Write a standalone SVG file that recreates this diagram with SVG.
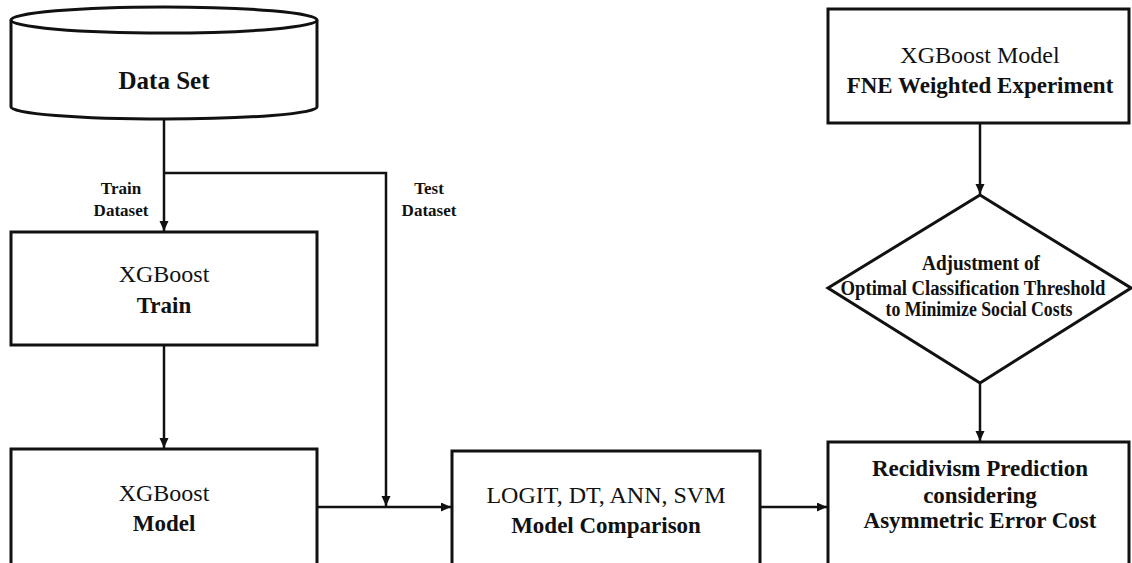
<svg xmlns="http://www.w3.org/2000/svg" width="1132" height="563" viewBox="0 0 1132 563">
<style>
.box{fill:#fff;stroke:#111;stroke-width:3}
.ln{fill:none;stroke:#111;stroke-width:2.5}
text{font-family:"Liberation Serif","Times New Roman",serif;fill:#111;text-anchor:middle}
.r{font-size:24px}
.b{font-size:23px;font-weight:bold}
.s{font-size:17px;font-weight:bold}
.d{font-size:20px;font-weight:bold}
</style>
<defs>
<marker id="ah" markerUnits="userSpaceOnUse" markerWidth="11" markerHeight="10" refX="10" refY="4.5" orient="auto">
<path d="M0,0 L10,4.5 L0,9 z" fill="#111"/>
</marker>
</defs>
<rect width="1132" height="563" fill="#fff"/>
<g id="connectors">
<line class="ln" x1="164" y1="120" x2="164" y2="231" marker-end="url(#ah)"/>
<polyline class="ln" points="164,173 386,173 386,506" marker-end="url(#ah)"/>
<line class="ln" x1="164" y1="346" x2="164" y2="448" marker-end="url(#ah)"/>
<line class="ln" x1="318" y1="507" x2="451" y2="507" marker-end="url(#ah)"/>
<line class="ln" x1="761" y1="507" x2="827" y2="507" marker-end="url(#ah)"/>
<line class="ln" x1="980" y1="124" x2="980" y2="194" marker-end="url(#ah)"/>
<line class="ln" x1="980" y1="384" x2="980" y2="441" marker-end="url(#ah)"/>
<text class="s" x="121" y="194">Train</text>
<text class="s" x="121" y="216">Dataset</text>
<text class="s" x="429" y="194">Test</text>
<text class="s" x="429" y="216">Dataset</text>
</g>
<g id="dataset">
<path class="box" d="M11,20 L11,107 A153,12 0 0 0 317,107 L317,20"/>
<ellipse class="box" cx="164" cy="20" rx="153" ry="13"/>
<text class="b" x="164" y="89" style="font-size:25px">Data Set</text>
</g>
<g id="train">
<rect class="box" x="11" y="232" width="306" height="113"/>
<text class="r" x="164" y="282">XGBoost</text>
<text class="b" x="164" y="313">Train</text>
</g>
<g id="model">
<rect class="box" x="11" y="449" width="306" height="125"/>
<text class="r" x="164" y="501">XGBoost</text>
<text class="b" x="164" y="531">Model</text>
</g>
<g id="comparison">
<rect class="box" x="452" y="451" width="308" height="125"/>
<text class="r" x="606" y="503">LOGIT, DT, ANN, SVM</text>
<text class="b" x="606" y="533">Model Comparison</text>
</g>
<g id="fne">
<rect class="box" x="828" y="9" width="301" height="114"/>
<text class="r" x="980" y="63">XGBoost Model</text>
<text class="b" x="980" y="93">FNE Weighted Experiment</text>
</g>
<g id="threshold">
<polygon class="box" points="980,195 1131,288 980,383 828,288"/>
<text class="d" x="981" y="270" textLength="118" lengthAdjust="spacingAndGlyphs">Adjustment of</text>
<text class="d" x="973" y="295" textLength="265" lengthAdjust="spacingAndGlyphs">Optimal Classification Threshold</text>
<text class="d" x="979" y="316" textLength="187" lengthAdjust="spacingAndGlyphs">to Minimize Social Costs</text>
</g>
<g id="recidivism">
<rect class="box" x="828" y="442" width="301" height="134"/>
<text class="b" x="980" y="476">Recidivism Prediction</text>
<text class="b" x="980" y="503">considering</text>
<text class="b" x="980" y="528">Asymmetric Error Cost</text>
</g>
</svg>
